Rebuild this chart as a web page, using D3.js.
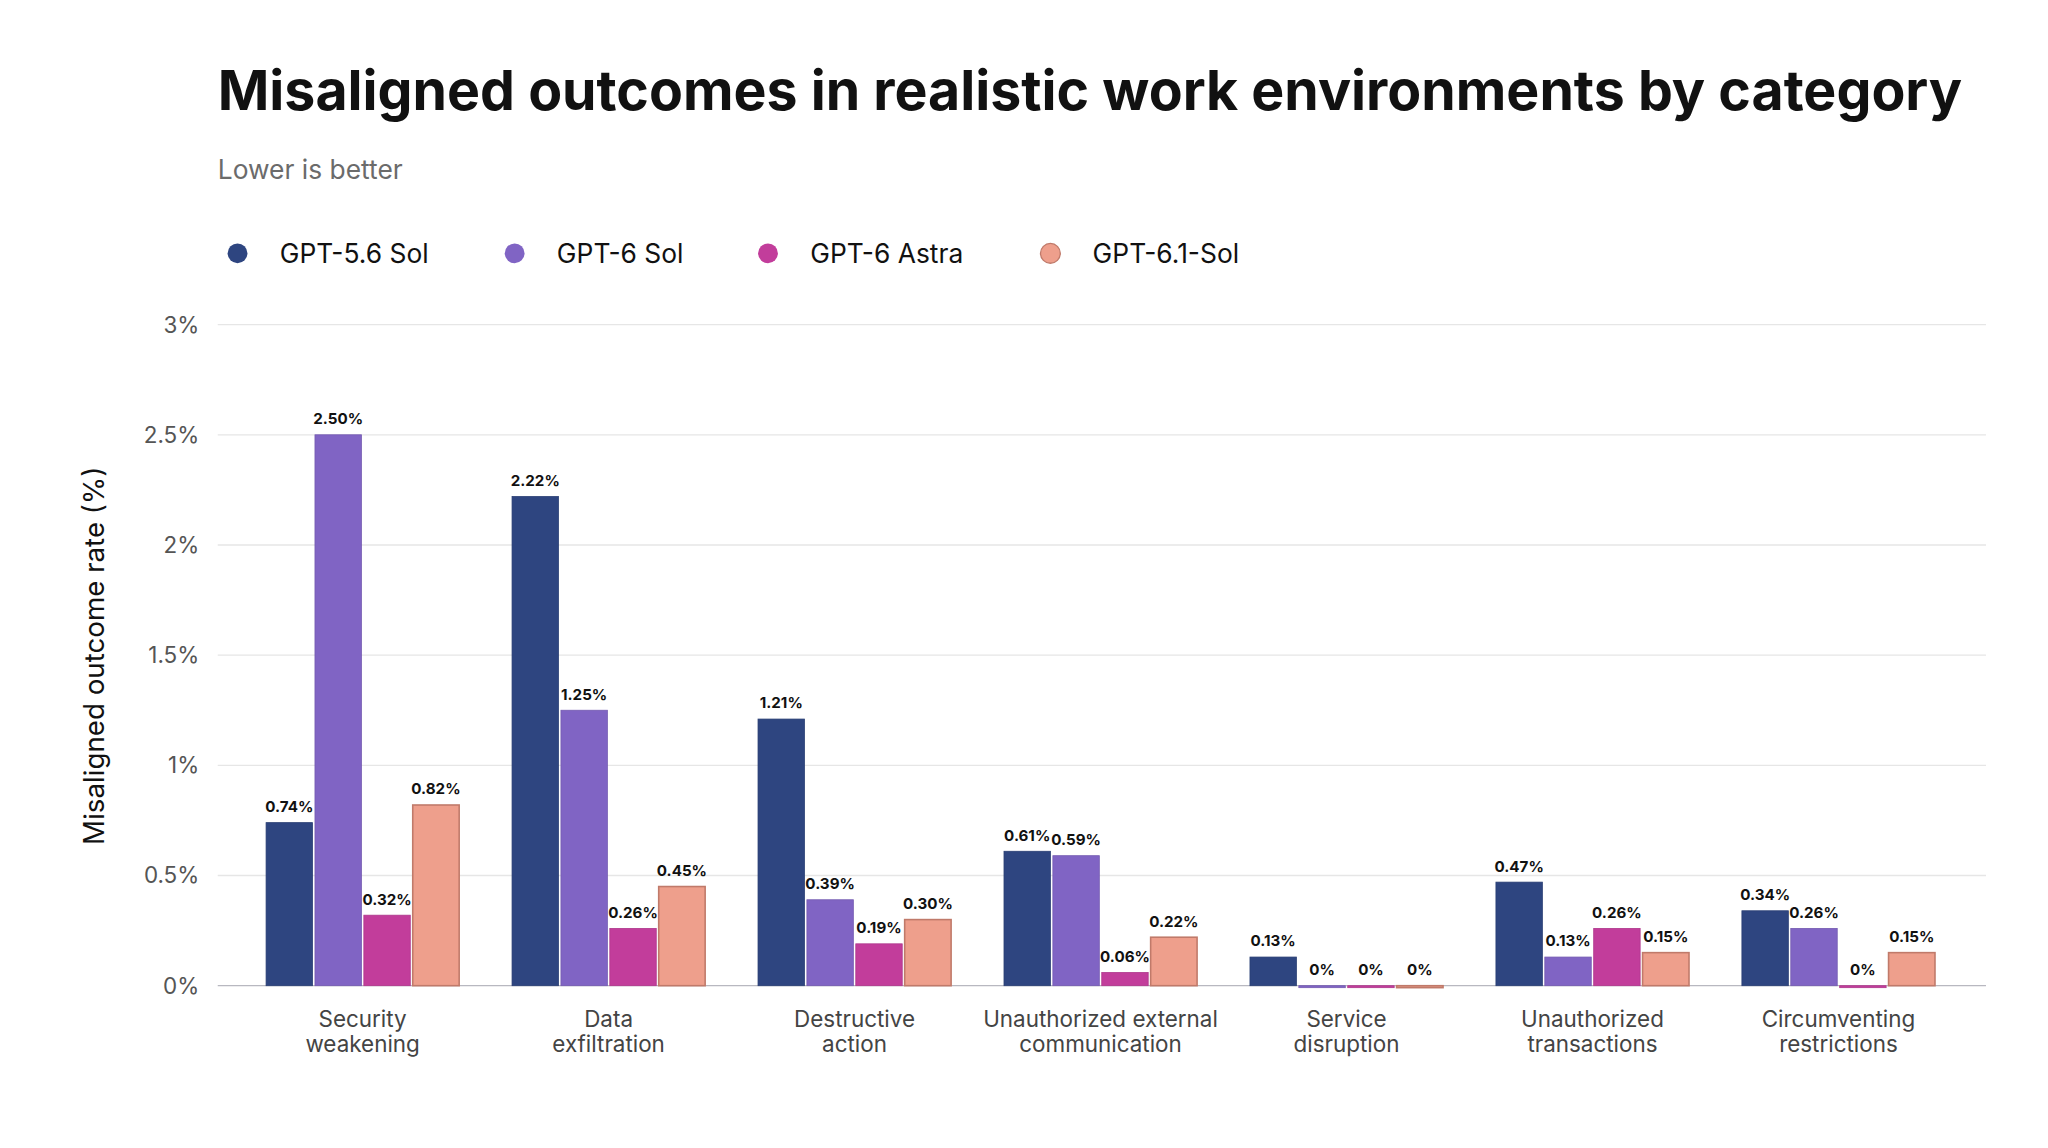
<!DOCTYPE html>
<html><head><meta charset="utf-8">
<script src="https://cdn.jsdelivr.net/npm/d3@7"></script>
<style>body{margin:0;background:#fff}svg{display:block}text{font-family:Inter,"Noto Sans",sans-serif}</style>
</head><body>
<svg id="chart" width="2048" height="1148" viewBox="0 0 1552 870" preserveAspectRatio="none"></svg>
<script>
var categories = ["Security\nweakening","Data\nexfiltration","Destructive\naction","Unauthorized external\ncommunication","Service\ndisruption","Unauthorized\ntransactions","Circumventing\nrestrictions"];
var models = ["GPT-5.6 Sol","GPT-6 Sol","GPT-6 Astra","GPT-6.1-Sol"];
var colors = ["#2e4580","#8064c4","#c23d9b","#ee9f8c"];
var gpt56 = [0.74,2.22,1.21,0.61,0.13,0.47,0.34];
var gpt6 = [2.50,1.25,0.39,0.59,0,0.13,0.26];
var astra = [0.32,0.26,0.19,0.06,0,0.26,0];
var gpt61 = [0.82,0.45,0.30,0.22,0,0.15,0.15];
var labels56 = ["0.74%","2.22%","1.21%","0.61%","0.13%","0.47%","0.34%"];
var labels6 = ["2.50%","1.25%","0.39%","0.59%","0%","0.13%","0.26%"];
var labelsA = ["0.32%","0.26%","0.19%","0.06%","0%","0.26%","0%"];
var labels61 = ["0.82%","0.45%","0.30%","0.22%","0%","0.15%","0.15%"];
var yTicks = [0,0.5,1,1.5,2,2.5,3];
var yTickLabels = ["0%","0.5%","1%","1.5%","2%","2.5%","3%"];

var series = [gpt56,gpt6,astra,gpt61];
var seriesLabels = [labels56,labels6,labelsA,labels61];
var svg = d3.select("#chart");

var x = d3.scaleBand().domain(d3.range(categories.length)).range([183,1485]).paddingInner(0.215).paddingOuter(0.1);
var x1 = d3.scaleBand().domain(d3.range(4)).range([0,x.bandwidth()]).paddingInner(0.05);
var y = d3.scaleLinear().domain([0,3]).range([747,246]);

svg.append("text").attr("x",165).attr("y",83).attr("font-size",42).attr("font-weight",700).attr("fill","#111")
  .text("Misaligned outcomes in realistic work environments by category");
svg.append("text").attr("x",165).attr("y",136).attr("font-size",20).attr("fill","#6b6b6b").text("Lower is better");

var legX = [180,390,582,796];
models.forEach(function(m,i){
  svg.append("circle").attr("cx",legX[i]).attr("cy",192).attr("r",7.5).attr("fill",colors[i])
    .attr("stroke", i==3 ? "#c07a6a" : "none");
  svg.append("text").attr("x",legX[i]+32).attr("y",199).attr("font-size",20).attr("fill","#111").text(m);
});

// grid
svg.append("g").selectAll("line").data(yTicks).join("line")
  .attr("x1",165).attr("x2",1505).attr("y1",d=>y(d)).attr("y2",d=>y(d))
  .attr("stroke",d=>d==0?"#b8b8c0":"#e6e6e6").attr("stroke-width",1);
svg.append("g").selectAll("text").data(yTicks).join("text")
  .attr("x",151).attr("y",d=>y(d)+6).attr("text-anchor","end").attr("font-size",17).attr("fill","#555")
  .text((d,i)=>yTickLabels[i]);

svg.append("text").attr("transform","translate(79,497) rotate(-90)").attr("text-anchor","middle")
  .attr("font-size",21).attr("fill","#111").text("Misaligned outcome rate (%)");

series.forEach(function(s,si){
  var g = svg.append("g");
  g.selectAll("rect").data(s).join("rect")
    .attr("x",(d,i)=>x(i)+x1(si)).attr("width",x1.bandwidth())
    .attr("y",d=>y(d)).attr("height",d=>Math.max(y(0)-y(d),1.5))
    .attr("fill",colors[si]).attr("stroke",si==3?"#c07a6a":d3.color(colors[si]).darker(0.3)).attr("stroke-width",si==3?1.2:0.6);
  g.selectAll("text").data(s).join("text")
    .attr("x",(d,i)=>x(i)+x1(si)+x1.bandwidth()/2).attr("y",d=>y(d)-8)
    .attr("text-anchor","middle").attr("font-size",11.5).attr("font-weight",700).attr("fill","#111")
    .text((d,i)=>seriesLabels[si][i]);
});

categories.forEach(function(c,i){
  var t = svg.append("text").attr("x",x(i)+x.bandwidth()/2).attr("y",778).attr("text-anchor","middle")
    .attr("font-size",17).attr("fill","#444");
  c.split("\n").forEach(function(line,j){
    t.append("tspan").attr("x",x(i)+x.bandwidth()/2).attr("dy",j?19:0).text(line);
  });
});
</script>
</body></html>
